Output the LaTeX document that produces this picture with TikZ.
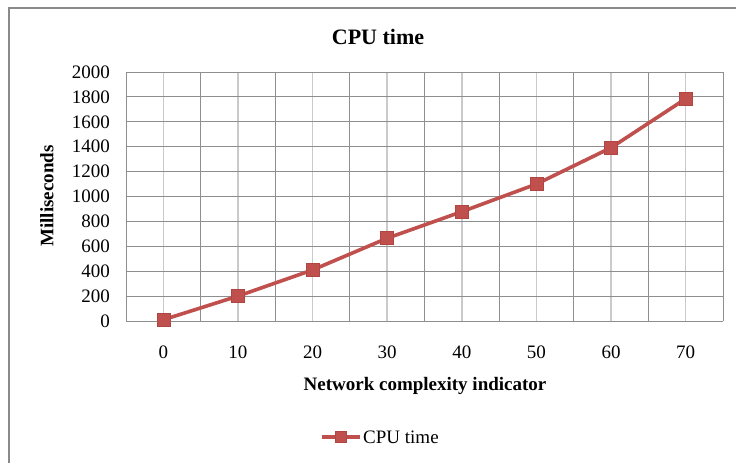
\documentclass[tikz,border=0pt]{standalone}
\usepackage{fontspec}
\setmainfont{Liberation Serif}
\usetikzlibrary{backgrounds}
\definecolor{series}{HTML}{C0504D}
\definecolor{seriesdark}{HTML}{B04541}
\definecolor{gridmajor}{HTML}{8E8E8E}
\definecolor{gridminor}{HTML}{CACACA}
\definecolor{frame}{HTML}{8A8A8A}
\tikzset{
  declare function={px(\c)=163.3+7.4625*\c; py(\v)=321-0.1245*\v;},
  marker/.style={rectangle, fill=series, draw=seriesdark, line width=0.6pt, minimum size=13pt, inner sep=0pt},
  legmarker/.style={marker, minimum size=11pt},
  seriesline/.style={draw=series, line width=3.6pt},
  hgrid/.style={draw=gridmajor, line width=1pt},
  vmajor/.style={draw=gridmajor, line width=1pt},
  vminor/.style={draw=gridminor, line width=1.4pt},
  ticklab/.style={font=\fontsize{19}{21}\selectfont, inner sep=0pt},
  axlab/.style={font=\fontsize{19}{21}\selectfont\bfseries, inner sep=0pt},
  titlelab/.style={font=\fontsize{22}{25}\selectfont\bfseries, inner sep=0pt},
}
\begin{document}
\begin{tikzpicture}[x=1pt,y=-1pt]
\useasboundingbox (0,0) rectangle (736,463);
% grid and series line on background
\begin{scope}[on background layer]
\fill[white] (0,0) rectangle (736,463);
\foreach \k in {0,...,7} {
  \draw[vminor] ({163.3+74.625*\k},72) -- ({163.3+74.625*\k},321);
}
\foreach \v in {200,400,...,2000} {
  \draw[hgrid] (126,{py(\v)}) -- (723,{py(\v)});
}
\foreach \k in {0,...,8} {
  \draw[vmajor] ({126+74.625*\k},72) -- ({126+74.625*\k},321);
}
\draw[hgrid] (126,321) -- (723,321);
\end{scope}
% outer frame
\draw[frame, line width=1.5pt] (9,470) -- (9,8) -- (745,8);
% data markers
\node[marker] (p0) at ({px(0)},{py(10)}) {};
\node[marker] (p1) at ({px(10)},{py(200)}) {};
\node[marker] (p2) at ({px(20)},{py(410)}) {};
\node[marker] (p3) at ({px(30)},{py(665)}) {};
\node[marker] (p4) at ({px(40)},{py(878)}) {};
\node[marker] (p5) at ({px(50)},{py(1100)}) {};
\node[marker] (p6) at ({px(60)},{py(1392)}) {};
\node[marker] (p7) at ({px(70)},{py(1785)}) {};
\begin{scope}[on background layer]
\draw[seriesline] (p0.center) -- (p1.center) -- (p2.center) -- (p3.center) -- (p4.center) -- (p5.center) -- (p6.center) -- (p7.center);
\end{scope}
% y tick labels
\foreach \v in {0,200,...,2000} {
  \node[ticklab, anchor=east] (y\v) at (110,{py(\v)}) {\v};
}
% x tick labels
\foreach \c in {0,10,...,70} {
  \node[ticklab] (x\c) at ({px(\c)},352) {\c};
}
% titles
\node[titlelab] (title) at (378,37) {CPU time};
\node[axlab, rotate=90] (ylab) at (47,196) {Milliseconds};
\node[axlab] (xlab) at (425,386) {Network complexity indicator};
% legend
\coordinate (la) at (322,437);
\coordinate (lb) at (360,437);
\draw[seriesline, line width=4pt] (la) -- (lb);
\node[legmarker] (lm) at (341,437) {};
\node[ticklab, anchor=west] (legtext) at (363,437) {CPU time};
\end{tikzpicture}
\end{document}
